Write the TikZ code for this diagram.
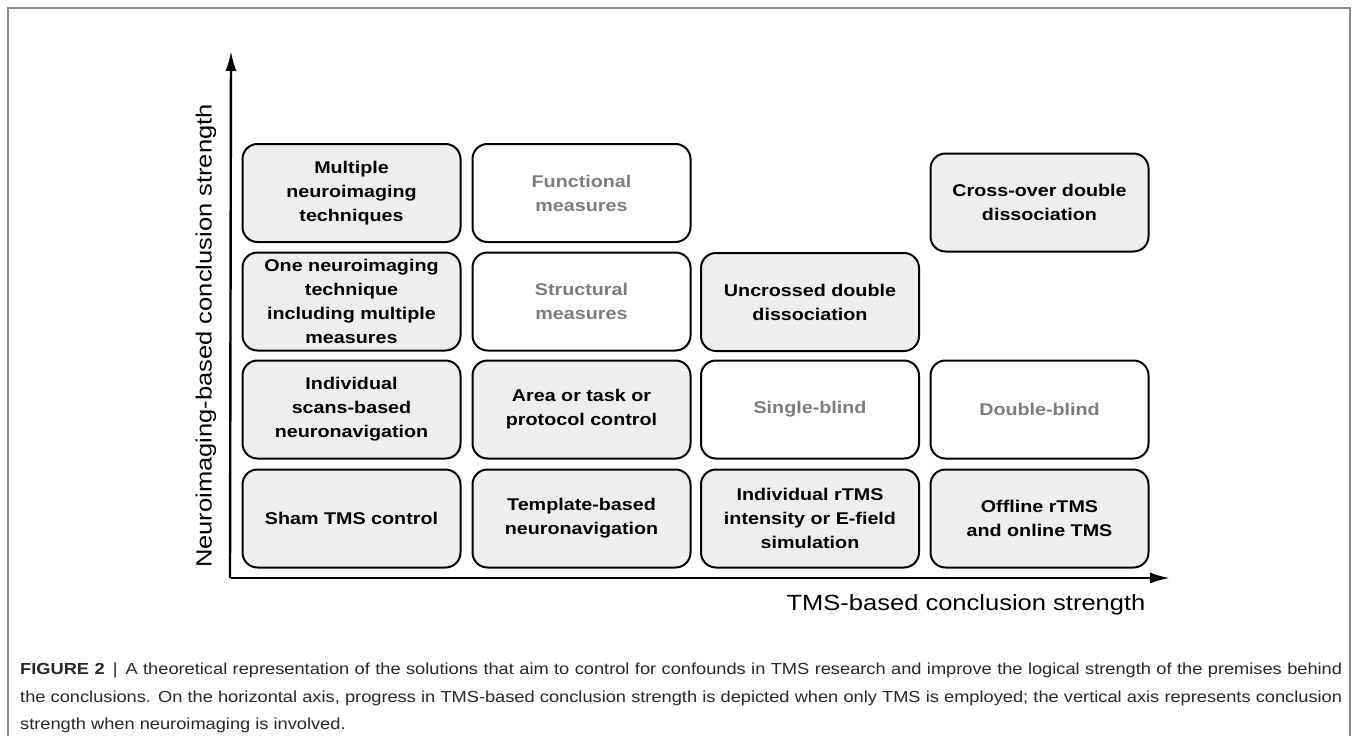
\documentclass[tikz,border=0pt]{standalone}
\usepackage{fontspec}
\setmainfont{Liberation Sans}[FakeStretch=1.16]
\newfontfamily\capfont[FakeStretch=1.14]{Liberation Sans}
\usetikzlibrary{arrows.meta}
\definecolor{boxfill}{RGB}{238,238,238}
\definecolor{softtext}{RGB}{125,125,125}
\definecolor{framegray}{RGB}{140,140,140}
\definecolor{captext}{RGB}{40,40,40}
\tikzset{
  cell/.style={draw=black, line width=2pt, rounded corners=15pt,
    minimum width=218pt, minimum height=98pt, inner sep=0pt,
    align=center, font=\fontsize{17}{24}\selectfont\bfseries},
  filled/.style={cell, fill=boxfill, text=black},
  open/.style={cell, fill=white, text=softtext},
  axis/.style={line width=2.4pt, -{Latex[length=20pt,width=11pt]}},
  axlabel/.style={font=\fontsize{22}{26}\selectfont, inner sep=0pt},
  capline/.style={anchor=base west, inner sep=0pt, text=captext,
    font=\capfont\fontsize{16}{19}\selectfont}
}
\begin{document}
\begin{tikzpicture}[x=1pt,y=-1pt]
\useasboundingbox (0,0) rectangle (1355,736);
\fill[white] (0,0) rectangle (1355,736);
% frame
\draw[framegray, line width=1.3pt] (8,740) -- (8,8) -- (1350,8) -- (1350,740);

% cells
\node[filled] (c11) at (351.5,193) {Multiple\\neuroimaging\\techniques};
\node[filled] (c21) at (351.5,301.5) {One neuroimaging\\technique\\including multiple\\measures};
\node[filled] (c31) at (351.5,409.5) {Individual\\scans-based\\neuronavigation};
\node[filled] (c41) at (351.5,518.5) {Sham TMS control};

\node[open] (c12) at (581.5,193) {Functional\\measures};
\node[open] (c22) at (581.5,301.5) {Structural\\measures};
\node[filled] (c32) at (581.5,409.5) {Area or task or\\protocol control};
\node[filled] (c42) at (581.5,518.5) {Template-based\\neuronavigation};

\node[filled] (c23) at (810,302) {Uncrossed double\\dissociation};
\node[open] (c33) at (810,409.5) {Single-blind};
\node[filled] (c43) at (810,518.5) {Individual rTMS\\intensity or E-field\\simulation};

\node[filled] (c14) at (1039.5,202.5) {Cross-over double\\dissociation};
\node[open] (c34) at (1039.5,409.5) {Double-blind};
\node[filled] (c44) at (1039.5,518.5) {Offline rTMS\\and online TMS};

% axes
\coordinate (origin) at (231,578);
\coordinate (ytip) at (231,51);
\coordinate (xtip) at (1170,578);
\draw[axis] (230,578) -- (ytip);
\draw[axis] (origin) -- (xtip);

\node[axlabel, rotate=90] (ylab) at (206,336) {Neuroimaging-based conclusion strength};
\node[axlabel] (xlab) at (966,605) {TMS-based conclusion strength};

% caption
\node[capline] (cap1) at (20,674) {\makebox[1322pt][s]{\textbf{FIGURE 2} \,|\, A theoretical representation of the solutions that aim to control for confounds in TMS research and improve the logical strength of the premises behind}};
\node[capline] (cap2) at (20,702) {\makebox[1322pt][s]{the conclusions. On the horizontal axis, progress in TMS-based conclusion strength is depicted when only TMS is employed; the vertical axis represents conclusion}};
\node[capline] (cap3) at (20,729) {strength when neuroimaging is involved.};
\end{tikzpicture}
\end{document}
